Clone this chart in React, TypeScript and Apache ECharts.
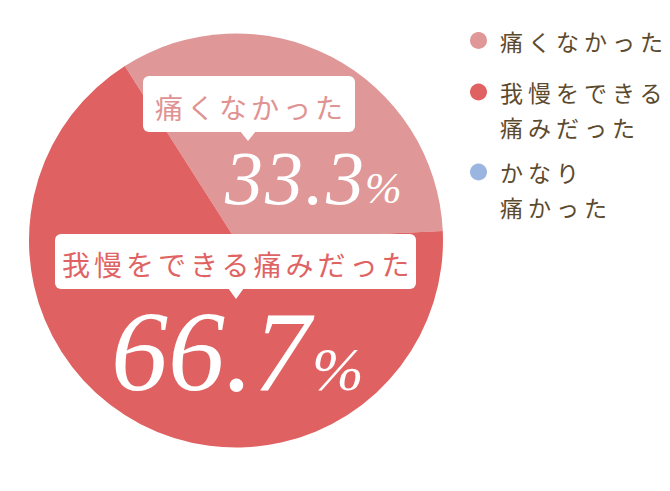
import React, { useEffect, useRef } from "react";
import * as echarts from "echarts";

const categories = ["痛くなかった", "我慢をできる痛みだった", "かなり痛かった"];
const values = [33.3, 66.7, 0];
const legendLabels = ["痛くなかった", "\n我慢をできる\n痛みだった", "\nかなり\n痛かった"];
const sliceColors = ["#df9797", "#e06161", "#9ab5e0"];
const labelTextColors = ["#e09393", "#e06363"];

const JP = "Noto Sans CJK JP";
const SERIF = "Liberation Serif";

export default function App() {
  const ref = useRef<HTMLDivElement>(null);

  useEffect(() => {
    if (!ref.current) return;
    const chart = echarts.init(ref.current, null, { renderer: "svg" });

    const legendTops = [23, 39.5, 119.5];
    const legends = categories.map((name, i) => ({
      data: [name],
      orient: "vertical",
      left: 470,
      top: legendTops[i],
      padding: 0,
      icon: "circle",
      itemWidth: 17,
      itemHeight: 17,
      selectedMode: false,
      formatter: () => legendLabels[i],
      textStyle: {
        color: "#5c4a2e",
        fontSize: 23,
        fontFamily: JP,
        lineHeight: 35,
        padding: [0, 0, 0, 8],
      },
    }));

    const pct = (v: number) => v.toFixed(1);

    const callout = (
      x: number,
      y: number,
      w: number,
      h: number,
      tipX: number,
      tipY: number,
      text: string,
      textX: number,
      textY: number,
      color: string
    ) => [
      {
        type: "rect",
        shape: { x, y, width: w, height: h, r: 6 },
        style: { fill: "#ffffff" },
        z: 10,
      },
      {
        type: "polygon",
        shape: {
          points: [
            [tipX - 8, y + h - 1],
            [tipX + 8, y + h - 1],
            [tipX, tipY],
          ],
        },
        style: { fill: "#ffffff" },
        z: 10,
      },
      {
        type: "text",
        x: textX,
        y: textY,
        style: {
          text,
          fill: color,
          fontSize: 28,
          fontFamily: JP,
          textAlign: "left",
          textVerticalAlign: "middle",
        },
        z: 11,
      },
    ];

    const bigNumber = (
      x: number,
      y: number,
      size: number,
      text: string,
      px: number,
      py: number,
      psize: number
    ) => [
      {
        type: "text",
        x,
        y,
        style: {
          text,
          fill: "#ffffff",
          fontSize: size,
          fontFamily: SERIF,
          fontStyle: "italic",
          textAlign: "left",
          textVerticalAlign: "middle",
        },
        z: 11,
      },
      {
        type: "text",
        x: px,
        y: py,
        style: {
          text: "%",
          fill: "#ffffff",
          fontSize: psize,
          fontFamily: SERIF,
          fontStyle: "italic",
          textAlign: "left",
          textVerticalAlign: "middle",
        },
        z: 11,
      },
    ];

    chart.setOption({
      animation: false,
      backgroundColor: "#ffffff",
      legend: legends,
      series: [
        {
          type: "pie",
          center: [236, 240.5],
          radius: 207,
          startAngle: 122.5,
          clockwise: true,
          silent: true,
          label: { show: false },
          labelLine: { show: false },
          data: categories.map((name, i) => ({
            name,
            value: values[i],
            itemStyle: { color: sliceColors[i], borderWidth: 0 },
          })),
        },
      ],
      graphic: [
        ...callout(143, 76, 212, 56, 248, 141, categories[0], 155, 107, labelTextColors[0]),
        ...bigNumber(225, 178, 76, pct(values[0]), 365, 188.5, 44),
        ...callout(55, 234, 361, 55, 236, 299, categories[1], 62, 264, labelTextColors[1]),
        ...bigNumber(111, 351.5, 114, pct(values[1]), 312, 369, 62),
      ],
    });

    return () => chart.dispose();
  }, []);

  return (
    <>
      <style>{`
        .chart-host text[style*="23px"] { letter-spacing: 5px; }
        .chart-host text[style*="28px"] { letter-spacing: 4px; }
        .chart-host text[style*="76px"] { letter-spacing: 2px; }
      `}</style>
      <div
        ref={ref}
        className="chart-host"
        style={{ position: "absolute", left: 0, top: 0, width: 670, height: 491 }}
      />
    </>
  );
}
